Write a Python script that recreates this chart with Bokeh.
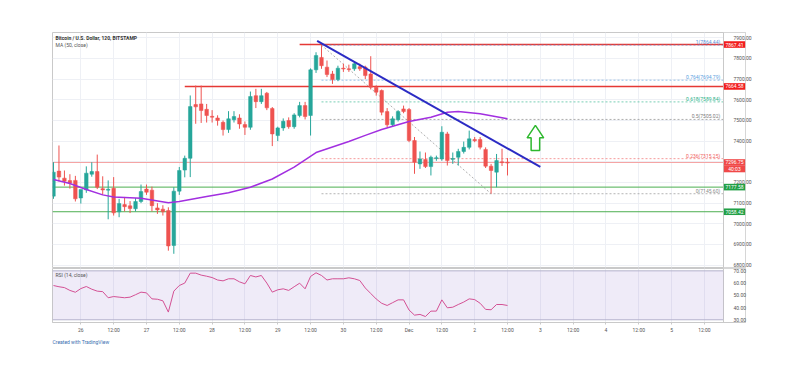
from bokeh.plotting import figure
from bokeh.models import (Range1d, FixedTicker, Span, Label, BoxAnnotation, Title,
                          ColumnDataSource, PrintfTickFormatter)
from bokeh.layouts import column
from bokeh.embed import file_html
from bokeh.resources import INLINE
from bokeh.core.properties import value

# ---------------- data (2h candles, Nov 25 14:00 -> Dec 2 12:00) ----------------
opens = [7134, 7255, 7221, 7209, 7210, 7125, 7164, 7240, 7253, 7170, 7163, 7172, 7058, 7093,
         7087, 7073, 7108, 7168, 7163, 7077, 7071, 7064, 6895, 7158, 7260, 7317, 7577, 7580,
         7554, 7520, 7512, 7491, 7456, 7503, 7512, 7480, 7467, 7620, 7591, 7632, 7558, 7427,
         7464, 7500, 7470, 7524, 7572, 7524, 7745, 7805, 7758, 7725, 7698, 7753, 7750, 7750,
         7760, 7758, 7725, 7661, 7645, 7543, 7479, 7504, 7556, 7553, 7403, 7290, 7311, 7277,
         7318, 7314, 7435, 7314, 7322, 7350, 7370, 7408, 7408, 7360, 7279, 7250, 7300, 7298]
highs = [7298, 7379, 7258, 7240, 7232, 7150, 7278, 7298, 7335, 7230, 7210, 7226, 7121, 7130,
         7110, 7125, 7190, 7190, 7180, 7100, 7090, 7080, 7177, 7275, 7330, 7621, 7669, 7669,
         7580, 7550, 7525, 7500, 7545, 7545, 7530, 7495, 7640, 7653, 7653, 7638, 7565, 7470,
         7510, 7515, 7535, 7590, 7590, 7752, 7830, 7864.44, 7790, 7740, 7765, 7775, 7770, 7785,
         7775, 7765, 7811, 7670, 7650, 7560, 7520, 7550, 7572, 7560, 7420, 7350, 7345, 7330,
         7330, 7472, 7445, 7345, 7363, 7398, 7451, 7420, 7420, 7370, 7290, 7338, 7363, 7318]
lows = [7121, 7205, 7185, 7170, 7108, 7098, 7150, 7228, 7168, 7140, 7022, 7040, 7032, 7060,
        7052, 7060, 7100, 7140, 7060, 7048, 7040, 6870, 6855, 7140, 7225, 7226, 7484, 7488,
        7490, 7490, 7475, 7427, 7440, 7490, 7460, 7430, 7455, 7560, 7580, 7550, 7376, 7400,
        7450, 7460, 7460, 7515, 7505, 7427, 7730, 7750, 7710, 7677, 7690, 7735, 7735, 7740,
        7740, 7700, 7650, 7620, 7525, 7468, 7470, 7495, 7535, 7395, 7242, 7266, 7270, 7234,
        7305, 7305, 7282, 7290, 7282, 7340, 7360, 7395, 7360, 7270, 7145.6, 7177, 7280, 7234]
closes = [7250, 7226, 7206, 7198, 7121, 7166, 7245, 7253, 7177, 7164, 7167, 7053, 7098, 7083,
          7074, 7108, 7156, 7153, 7088, 7067, 7058, 6893, 7158, 7258, 7317, 7567, 7566, 7548,
          7524, 7518, 7500, 7456, 7508, 7519, 7483, 7467, 7616, 7591, 7620, 7561, 7435, 7464,
          7496, 7470, 7527, 7572, 7519, 7745, 7814, 7765, 7722, 7698, 7753, 7750, 7748, 7774,
          7750, 7717, 7661, 7637, 7540, 7479, 7508, 7543, 7543, 7403, 7298, 7314, 7277, 7322,
          7320, 7443, 7306, 7316, 7350, 7370, 7411, 7402, 7371, 7279, 7258, 7306, 7298, 7296.75]

ma_idx = [0, 3, 6, 9, 11, 16, 21, 23, 28, 32, 36, 40, 44, 48, 51, 54, 57, 60, 65, 69, 72, 74, 78, 83]
ma_val = [7214, 7195, 7166, 7140, 7130, 7124, 7102, 7108, 7132, 7150, 7177, 7217, 7274, 7345,
          7372, 7398, 7428, 7456, 7495, 7516, 7540, 7543, 7532, 7508]

rsi = [58.0, 57.0, 56.3, 54.0, 52.5, 55.5, 57.2, 55.0, 53.4, 53.0, 48.0, 49.0, 48.5, 48.0,
       48.5, 50.5, 52.6, 52.0, 47.1, 46.8, 45.5, 36.3, 53.4, 58.0, 60.0, 68.1, 68.1, 66.5,
       65.6, 64.5, 62.5, 61.8, 63.5, 63.5, 61.0, 59.4, 66.2, 65.0, 66.2, 60.0, 52.6, 54.5,
       55.3, 54.0, 57.0, 59.9, 55.3, 65.4, 68.4, 66.2, 62.5, 63.5, 63.5, 63.5, 64.3, 63.5,
       62.1, 56.0, 51.5, 47.0, 43.5, 41.7, 44.0, 46.3, 46.3, 38.0, 33.8, 34.4, 32.7, 37.1,
       37.1, 46.3, 39.8, 40.3, 42.5, 44.5, 47.1, 46.5, 43.5, 38.5, 38.2, 42.5, 42.5, 41.7]

tick_labels = ["26", "12:00", "27", "12:00", "28", "12:00", "29", "12:00", "30", "12:00",
               "Dec", "12:00", "2", "12:00", "3", "12:00", "4", "12:00", "5", "12:00"]
price_ticks = [6800, 6900, 7000, 7100, 7200, 7300, 7400, 7500, 7600, 7700, 7800, 7900]
rsi_ticks = [30, 40, 50, 60, 70]

resist_levels = [7867.41, 7664.58]
resist_start = [45, 24]
support_levels = [7177.58, 7058.42]
last_price = 7296.75
countdown = "40:03"

fib_names = ["1", "0.764", "0.618", "0.5", "0.236", "0"]
fib_ratios = [1.0, 0.764, 0.618, 0.5, 0.236, 0.0]
fib_high, fib_low = 7864.44, 7145.60
fib_high_idx, fib_low_idx = 49, 80

trend_idx = [48.2, 89.0]
trend_price = [7885, 7275]

arrow_idx = 88.1
arrow_tip, arrow_neck, arrow_base = 7476, 7416, 7355

# ---------------- geometry / styling ----------------
FONT = "Roboto"
UP, DOWN = "#26a69a", "#ef5350"
W, LEFT = 780, 52
PX = 5.47                      # pixels per candle
PANE_W, SCALE_W = 671, 22      # chart pane + price-scale column inside the frame
FRAME_W = PANE_W + SCALE_W
RIGHT = W - LEFT - FRAME_W
GRID = "#eef0f5"
AX = "#c9c9c9"
n = len(opens)
idx = list(range(n))
x0 = -0.18
x_end = x0 + PANE_W / PX                 # right edge of the chart pane
x_max = x0 + FRAME_W / PX                # right edge of the price scale column
xr = Range1d(x0, x_max)
tick_idx = [5 + 6 * k for k in range(len(tick_labels))]
y_lo, y_hi = 6788.7, 7925.6
PPX = (y_hi - y_lo) / 235                # price units per pixel

p1 = figure(width=W, height=268, output_backend="svg", toolbar_location=None,
            x_range=xr, y_range=Range1d(y_lo, y_hi),
            min_border_left=LEFT, min_border_right=RIGHT, min_border_top=32,
            min_border_bottom=1, y_axis_location="right", x_axis_location=None)
p2 = figure(width=W, height=80, output_backend="svg", toolbar_location=None,
            x_range=xr, y_range=Range1d(27.8, 71.9),
            min_border_left=LEFT, min_border_right=RIGHT, min_border_top=0,
            min_border_bottom=26, y_axis_location="right")

for p in (p1, p2):
    p.outline_line_color = AX
    p.background_fill_color = "white"
    p.border_fill_color = "white"
    p.xgrid.ticker = FixedTicker(ticks=tick_idx)
    p.xgrid.grid_line_color = GRID
    p.ygrid.grid_line_color = GRID
    # price-scale column: white background + separator
    p.add_layout(BoxAnnotation(left=x_end, fill_color="white", fill_alpha=1.0,
                               line_color=None, level="underlay"))
    p.add_layout(Span(location=x_end, dimension="height", line_color=AX, line_width=1))
    for ax in p.yaxis:
        ax.axis_line_color = None
        ax.major_tick_line_color = None
        ax.minor_tick_line_color = None
        ax.major_label_text_font = FONT
        ax.major_label_text_font_size = "5px"
        ax.major_label_text_color = "#555555"
        ax.major_label_standoff = -(SCALE_W - 4)
        ax.formatter = PrintfTickFormatter(format="%.2f")

p1.yaxis.ticker = FixedTicker(ticks=price_ticks)
p1.yaxis.major_label_overrides = {7300: ""}
p1.ygrid.ticker = FixedTicker(ticks=price_ticks)
p2.yaxis.ticker = FixedTicker(ticks=rsi_ticks)
p2.ygrid.grid_line_color = None
xa = p2.xaxis[0]
xa.ticker = FixedTicker(ticks=tick_idx)
xa.major_label_overrides = {t: l for t, l in zip(tick_idx, tick_labels)}
xa.axis_line_color = AX
xa.major_tick_line_color = AX
xa.major_tick_out = 2
xa.major_tick_in = 0
xa.minor_tick_line_color = None
xa.major_label_text_font = FONT
xa.major_label_text_font_size = "5px"
xa.major_label_text_color = "#555555"
xa.major_label_standoff = 2

# ---------------- main pane ----------------
colors = [UP if c >= o else DOWN for o, c in zip(opens, closes)]
src = ColumnDataSource(dict(x=idx, o=opens, h=highs, l=lows, c=closes, col=colors,
                            top=[max(o, c) for o, c in zip(opens, closes)],
                            bot=[min(o, c) if abs(o - c) > 3 else max(o, c) - 4 for o, c in zip(opens, closes)]))

p1.segment(x0=[x0] * 2, x1=[x_end] * 2, y0=support_levels, y1=support_levels,
           line_color="#4caf50", line_width=1)
p1.segment(x0=[x0], x1=[x_end], y0=[last_price], y1=[last_price], line_color="#f5a3a3", line_width=1)
p1.segment(x0=resist_start, x1=[x_end] * len(resist_start), y0=resist_levels, y1=resist_levels,
           line_color="#e53935", line_width=1.5)

fib_levels = [fib_low + r * (fib_high - fib_low) for r in fib_ratios]
fib_colors = ["#5b8fd9", "#5aa0e0", "#2bb38a", "#7d7d7d", "#f06060", "#8a8a8a"]
fib_text = [f"{nm}({lv:.2f})" for nm, lv in zip(fib_names, fib_levels)]
fsrc = ColumnDataSource(dict(x0=[fib_high_idx] * len(fib_levels), x1=[x_end] * len(fib_levels),
                             y=fib_levels, col=fib_colors, t=fib_text,
                             tx=[x_end - 0.6] * len(fib_levels)))
p1.segment(x0="x0", x1="x1", y0="y", y1="y", line_color="col", line_dash="2 2",
           line_width=0.8, line_alpha=0.8, source=fsrc)
p1.line([fib_high_idx, fib_low_idx], [fib_high, fib_low], line_color="#9a9a9a",
        line_dash="2 2", line_width=0.8)
p1.text(x="tx", y="y", text="t", text_color="col", text_font=value(FONT),
        text_font_size=value("5px"), text_align="right", text_baseline="bottom", source=fsrc)

p1.segment(x0="x", x1="x", y0="l", y1="h", line_color="col", line_width=1, source=src)
p1.vbar(x="x", width=0.65, top="top", bottom="bot", fill_color="col", line_color="col",
        line_width=0.5, source=src)

p1.line(ma_idx, ma_val, line_color="#a22fe0", line_width=1.5)
p1.line(trend_idx, trend_price, line_color="#2b2bc4", line_width=2)

hw, sw = 1.52, 0.78
ax_ = [arrow_idx, arrow_idx + hw, arrow_idx + sw, arrow_idx + sw, arrow_idx - sw, arrow_idx - sw, arrow_idx - hw]
ay_ = [arrow_tip, arrow_neck, arrow_neck, arrow_base, arrow_base, arrow_neck, arrow_neck]
p1.patch(ax_, ay_, fill_color="white", line_color="#2eb82e", line_width=1.5)

# price tags in the price-scale column
tag_y = resist_levels + [last_price, last_price - 6.5 * PPX] + support_levels
tag_t = [f"{v:.2f}" for v in resist_levels] + [f"{last_price:.2f}", countdown] + \
        [f"{v:.2f}" for v in support_levels]
tag_c = ["#f21e1e", "#f21e1e", "#f04848", "#f04848", "#22a046", "#22a046"]
tsrc = ColumnDataSource(dict(y=tag_y, t=tag_t, c=tag_c,
                             x=[(x_end + x_max) / 2] * len(tag_y)))
r1 = p1.rect(x="x", y="y", width=(x_max - x_end) * 0.97, height=6.6 * PPX, fill_color="c",
             line_color=None, source=tsrc)
r2 = p1.text(x="x", y="y", text="t", text_color="white", text_font=value(FONT),
             text_font_size=value("5px"), text_align="center", text_baseline="middle", source=tsrc)
r1.level = "overlay"
r2.level = "overlay"

p1.add_layout(Label(x=0.37, y=7900, text="Bitcoin / U.S. Dollar, 120, BITSTAMP", text_font=FONT,
                    text_font_size="5px", text_font_style="bold", text_color="#333333",
                    text_baseline="middle"))
p1.add_layout(Label(x=0.37, y=7864, text="MA (50, close)", text_font=FONT,
                    text_font_size="5px", text_color="#555555", text_baseline="middle"))

# ---------------- RSI pane ----------------
p2.add_layout(BoxAnnotation(bottom=30, top=70, right=x_end, fill_color="#7e57c2",
                            fill_alpha=0.12, line_color=None))
p2.segment(x0=[x0, x0], x1=[x_end, x_end], y0=[30, 70], y1=[30, 70],
           line_color="#b8b8cc", line_width=1)
p2.line(idx, rsi, line_color="#e0508e", line_width=1)
p2.add_layout(Label(x=0.37, y=66.5, text="RSI (14, close)", text_font=FONT,
                    text_font_size="5px", text_color="#555555", text_baseline="middle"))
p2.add_layout(Title(text="Created with TradingView", align="left", text_font=FONT,
                    text_font_size="5px", text_color="#3a6fb0", text_font_style="normal",
                    standoff=2), "below")

layout = column(p1, p2, spacing=0)
open("out.html", "w").write(file_html(layout, INLINE))
